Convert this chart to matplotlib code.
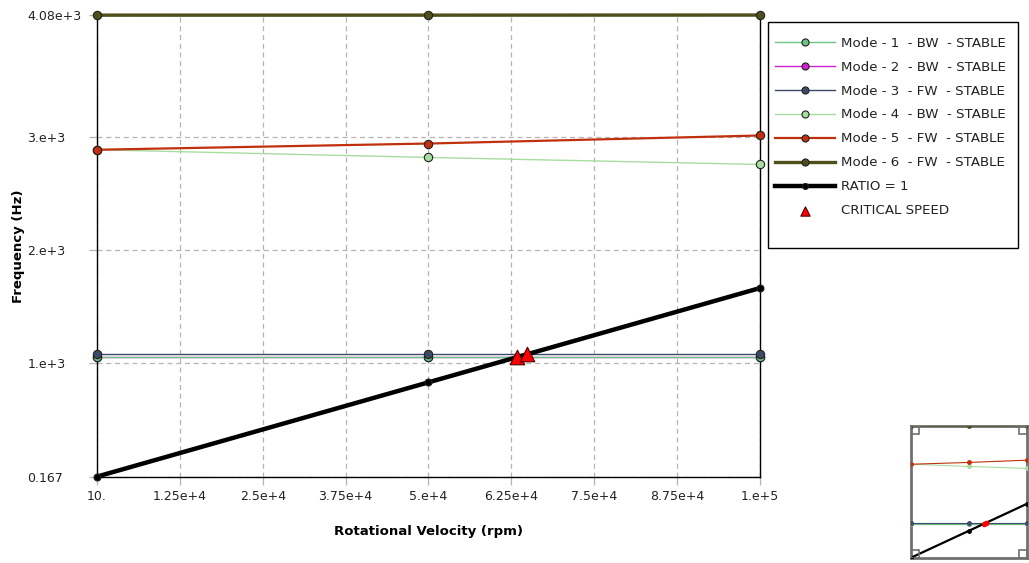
import matplotlib
matplotlib.use("Agg")
import matplotlib.pyplot as plt
from matplotlib.patches import Rectangle

# data
speed = [10, 50000, 100000]
mode1 = [1056, 1056, 1056]
mode2 = [1056, 1056, 1056]
mode3 = [1080, 1080, 1080]
mode4 = [2889, 2821, 2759]
mode5 = [2889, 2944, 3015]
mode6 = [4079, 4079, 4080]
ratio = [0.1667, 833.33, 1666.67]
crit_speed = [63360, 64800]
crit_freq = [1056, 1080]

labels = ["Mode - 1  - BW  - STABLE", "Mode - 2  - BW  - STABLE",
          "Mode - 3  - FW  - STABLE", "Mode - 4  - BW  - STABLE",
          "Mode - 5  - FW  - STABLE", "Mode - 6  - FW  - STABLE",
          "RATIO = 1"]
colors = ["#6cc485", "#d020d0", "#3c4a66", "#a8dca0", "#c0300c", "#4f4f1c", "black"]
widths = [1.0, 1.0, 1.0, 1.0, 1.6, 2.4, 3.2]
zorders = [3.2, 3.0, 3.4, 3.1, 3.5, 3.6, 5]
series = [mode1, mode2, mode3, mode4, mode5, mode6, ratio]

xticks = [10, 12500, 25000, 37500, 50000, 62500, 75000, 87500, 100000]
xticklabels = ["10.", "1.25e+4", "2.5e+4", "3.75e+4", "5.e+4", "6.25e+4", "7.5e+4", "8.75e+4", "1.e+5"]
yticks = [0.167, 1000, 2000, 3000, 4080]
yticklabels = ["0.167", "1.e+3", "2.e+3", "3.e+3", "4.08e+3"]

plt.rcParams['font.family'] = ['DejaVu Sans']

W, H = 1029, 563
fig = plt.figure(figsize=(W / 100, H / 100), dpi=100)
ax = fig.add_axes([97 / W, 1 - 476.6 / H, 663 / W, 461.6 / H])

handles = []
for y, lab, c, lw, z in zip(series, labels, colors, widths, zorders):
    ms = 6 if lw < 3 else 5
    h, = ax.plot(speed, y, color=c, lw=lw, marker='o', ms=ms, mfc=c, mec='#222222',
                 mew=0.8, label=lab, clip_on=False, zorder=z)
    handles.append(h)
tri = ax.scatter(crit_speed, crit_freq, marker='^', s=110, c='#ff0000', edgecolors='#500000',
                 linewidths=0.8, zorder=6, label='CRITICAL SPEED')

ax.set_xlim(10, 100000)
ax.set_ylim(0.167, 4080)
ax.set_xticks(xticks)
ax.set_xticklabels(xticklabels)
ax.set_yticks(yticks)
ax.set_yticklabels(yticklabels)
ax.grid(True, color='#b4b4b4', linestyle=(0, (4, 3)), linewidth=0.9)
ax.tick_params(axis='both', direction='out', length=6, width=0.9, color='#b4b4b4',
               labelsize=9, labelcolor='#222222')
ax.tick_params(axis='y', pad=44)
for t in ax.get_yticklabels():
    t.set_horizontalalignment('left')
for s in ax.spines.values():
    s.set_color('black')
    s.set_linewidth(1.0)

ax.set_xlabel("Rotational Velocity (rpm)", fontsize=9.5, fontweight='bold', labelpad=16)
ax.set_ylabel("Frequency (Hz)", fontsize=9.5, fontweight='bold')
ax.yaxis.set_label_coords(-72 / 663, 0.5)

# legend box drawn separately (the original has a tall empty bottom margin)
fig.patches.append(Rectangle((768 / W, 1 - 248 / H), 250 / W, 226 / H,
                             transform=fig.transFigure, fill=True, facecolor='white',
                             edgecolor='black', lw=1.0, zorder=0))
leg = fig.legend(handles=handles + [tri], loc='upper left',
                 bbox_to_anchor=(768 / W, 1 - 30 / H), fontsize=9.6,
                 frameon=False, handlelength=4.5,
                 handletextpad=0.45, labelspacing=0.82, borderpad=0.5,
                 scatterpoints=1, borderaxespad=0, markerscale=0.85)
for t in leg.get_texts():
    t.set_color('#222222')
leg.legend_handles[-1].set_sizes([45])

# small overview thumbnail at bottom right
ins = fig.add_axes([911 / W, 1 - 557.7 / H, 116 / W, 132 / H])
for y, c, lw, z in zip(series, colors, widths, zorders):
    ins.plot(speed, y, color=c, lw=max(lw * 0.5, 0.8), marker='o', ms=2.5, mfc=c, mec=c, zorder=z)
ins.plot(crit_speed, crit_freq, 'o', color='red', ms=3, zorder=6)
ins.set_xlim(10, 100000)
ins.set_ylim(0.167, 4080)
ins.set_xticks([])
ins.set_yticks([])
for s in ins.spines.values():
    s.set_color('#707070')
    s.set_linewidth(2)
for (cx, cy) in [(0, 0), (1 - 0.07, 0), (0, 1 - 0.06), (1 - 0.07, 1 - 0.06)]:
    ins.add_patch(Rectangle((cx, cy), 0.07, 0.06, transform=ins.transAxes, fill=False,
                            edgecolor='#707070', lw=1.2, zorder=7))

fig.savefig("out.png", dpi=100)
